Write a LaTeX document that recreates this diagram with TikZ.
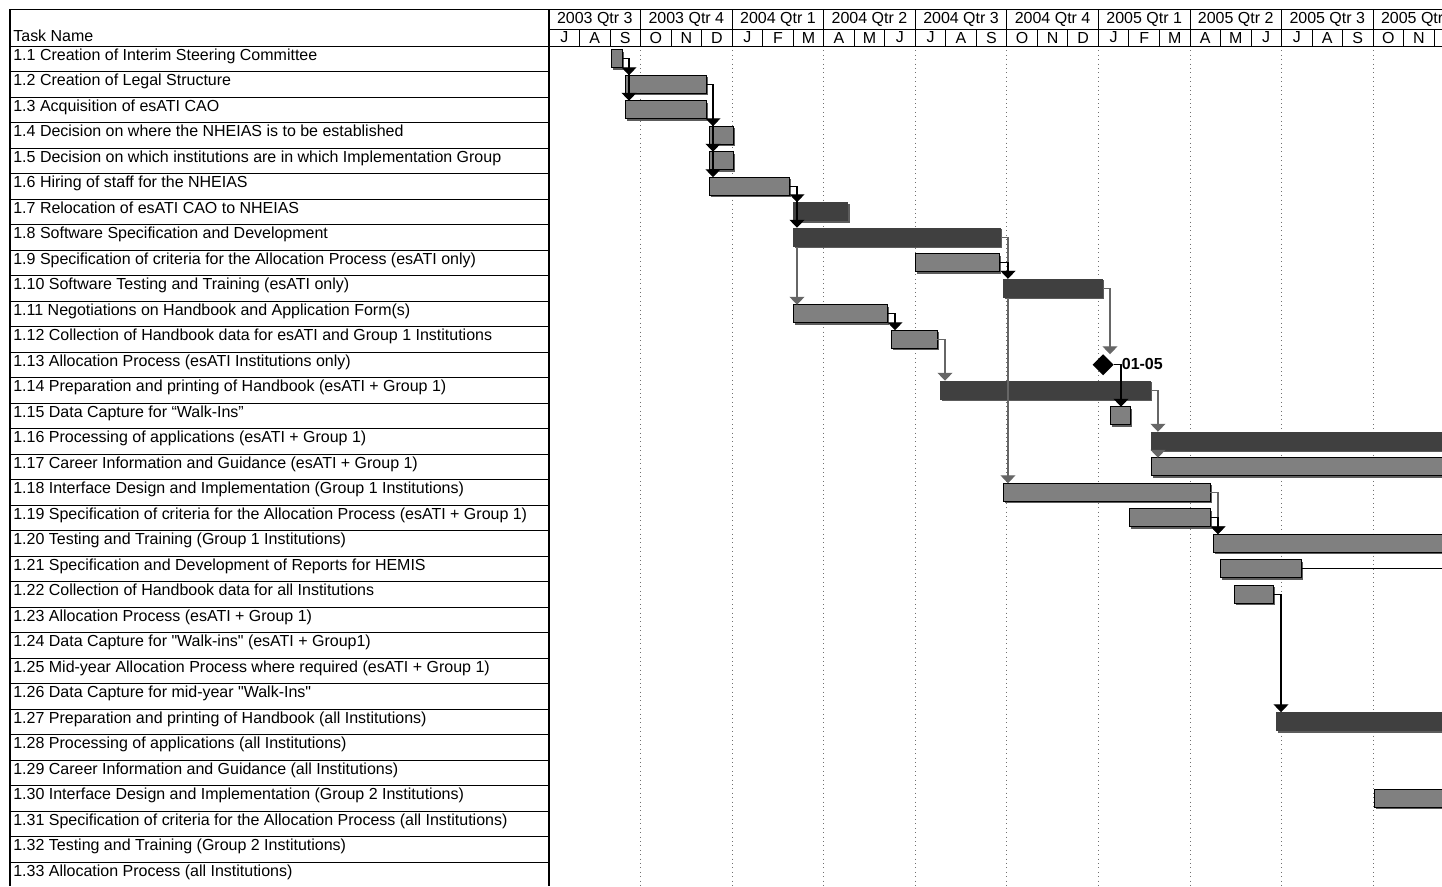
\documentclass[tikz,border=0pt]{standalone}
\usepackage{fontspec}
\setmainfont{Liberation Sans}
\usetikzlibrary{arrows.meta,shapes.geometric,shadows}

\definecolor{barGray}{HTML}{808080}
\definecolor{barDark}{HTML}{404040}
\definecolor{shadeGray}{HTML}{5C5C5C}
\definecolor{linkGray}{HTML}{666666}
\definecolor{gridGray}{HTML}{707070}

\begin{document}
\begin{tikzpicture}[x=0.02cm, y=-0.02cm,
  font=\fontsize{9.1}{10}\selectfont,
  gbar/.style={draw=black, line width=0.5pt, fill=barGray, anchor=west,
    minimum height=0.36cm, inner sep=0pt, outer sep=0pt,
    drop shadow={shadow xshift=0.035cm, shadow yshift=-0.035cm, fill=shadeGray, opacity=1}},
  dbar/.style={fill=barDark, anchor=west, minimum height=0.38cm, inner sep=0pt, outer sep=0pt,
    drop shadow={shadow xshift=0.03cm, shadow yshift=-0.03cm, fill=shadeGray, opacity=1}},
  mstone/.style={diamond, aspect=1, fill=black, minimum width=0.42cm, minimum height=0.42cm,
    inner sep=0pt, outer sep=0pt},
  link/.style={draw=black, line width=0.6pt, -{Triangle[width=0.3cm,length=0.16cm]}},
  glink/.style={draw=linkGray, line width=0.6pt, -{Triangle[width=0.3cm,length=0.16cm]}},
  taskname/.style={anchor=base west, inner sep=0pt},
  hdr/.style={inner sep=0pt},
  rowline/.style={draw=black, line width=0.5pt},
  gridline/.style={draw=gridGray, line width=0.5pt, dotted}]

  \useasboundingbox (0,0) rectangle (1442,886);
  \clip (0,0) rectangle (1442,886);

  % Quadrillage
  \foreach \k in {1,...,9}
    \draw[gridline] ({549+91.56*\k},46) -- ({549+91.56*\k},886);

  % En-tete
  \draw[rowline] (10,9.3) -- (1442,9.3);
  \draw[rowline] (549,29) -- (1442,29);
  \draw[rowline] (10,46) -- (1442,46);
  \foreach \k in {1,...,29}
    \draw[rowline] ({549+30.52*\k},29) -- ({549+30.52*\k},46);
  \foreach \k in {1,...,9}
    \draw[rowline] ({549+91.56*\k},9.3) -- ({549+91.56*\k},29);
  \foreach \q [count=\k from 0] in {2003 Qtr 3,2003 Qtr 4,2004 Qtr 1,2004 Qtr 2,2004 Qtr 3,
      2004 Qtr 4,2005 Qtr 1,2005 Qtr 2,2005 Qtr 3,2005 Qtr 4}
    \node[hdr] (q\k) at ({549+91.56*(\k+0.5)}, 19) {\q};
  \foreach \m [count=\k from 0] in {J,A,S,O,N,D,J,F,M,A,M,J,J,A,S,O,N,D,J,F,M,A,M,J,J,A,S,O,N}
    \node[hdr] (m\k) at ({549+30.52*(\k+0.5)}, 37.5) {\m};
  \node[taskname] (hd) at (13, 41) {Task Name};

  % Tableau des taches
  \draw[line width=0.6pt] (10,9.3) -- (10,886);
  \draw[line width=1pt] (549,9.3) -- (549,886);
  \foreach \i in {1,...,33}
    \draw[rowline] (10,{46+25.5*\i}) -- (549,{46+25.5*\i});
  \foreach \txt [count=\i] in {
      1.1 Creation of Interim Steering Committee,
      1.2 Creation of Legal Structure,
      1.3 Acquisition of esATI CAO,
      1.4 Decision on where the NHEIAS is to be established,
      1.5 Decision on which institutions are in which Implementation Group,
      1.6 Hiring of staff for the NHEIAS,
      1.7 Relocation of esATI CAO to NHEIAS,
      1.8 Software Specification and Development,
      1.9 Specification of criteria for the Allocation Process (esATI only),
      1.10 Software Testing and Training (esATI only),
      1.11 Negotiations on Handbook and Application Form(s),
      1.12 Collection of Handbook data for esATI and Group 1 Institutions,
      1.13 Allocation Process (esATI Institutions only),
      1.14 Preparation and printing of Handbook (esATI + Group 1),
      1.15 Data Capture for “Walk-Ins”,
      1.16 Processing of applications (esATI + Group 1),
      1.17 Career Information and Guidance (esATI + Group 1),
      1.18 Interface Design and Implementation (Group 1 Institutions),
      1.19 Specification of criteria for the Allocation Process (esATI + Group 1),
      1.20 Testing and Training (Group 1 Institutions),
      1.21 Specification and Development of Reports for HEMIS,
      1.22 Collection of Handbook data for all Institutions,
      1.23 Allocation Process (esATI + Group 1),
      1.24 Data Capture for \textquotedbl Walk-ins\textquotedbl{} (esATI + Group1),
      1.25 Mid-year Allocation Process where required (esATI + Group 1),
      1.26 Data Capture for mid-year \textquotedbl Walk-Ins\textquotedbl,
      1.27 Preparation and printing of Handbook (all Institutions),
      1.28 Processing of applications (all Institutions),
      1.29 Career Information and Guidance (all Institutions),
      1.30 Interface Design and Implementation (Group 2 Institutions),
      1.31 Specification of criteria for the Allocation Process (all Institutions),
      1.32 Testing and Training (Group 2 Institutions),
      1.33 Allocation Process (all Institutions)}
    \node[taskname] (t\i) at (13, {34.5+25.5*\i}) {\txt};

  % Barres
  \node[gbar, minimum width=0.22cm] (b1) at (611, 58.75) {};
  \node[gbar, minimum width=1.62cm] (b2) at (625, 84.25) {};
  \node[gbar, minimum width=1.62cm] (b3) at (625, 109.75) {};
  \node[gbar, minimum width=0.48cm] (b4) at (709, 135.25) {};
  \node[gbar, minimum width=0.48cm] (b5) at (709, 160.75) {};
  \node[gbar, minimum width=1.60cm] (b6) at (709, 186.25) {};
  \node[dbar, minimum width=1.10cm] (b7) at (793, 211.75) {};
  \node[dbar, minimum width=4.16cm] (b8) at (793, 237.25) {};
  \node[gbar, minimum width=1.68cm] (b9) at (915, 262.75) {};
  \node[dbar, minimum width=2.00cm] (b10) at (1003, 288.25) {};
  \node[gbar, minimum width=1.88cm] (b11) at (793, 313.75) {};
  \node[gbar, minimum width=0.92cm] (b12) at (891, 339.25) {};
  \node[mstone] (m13) at (1103, 364.75) {};
  \node[anchor=west, inner sep=0pt, font=\fontsize{9.1}{10}\selectfont\bfseries] (d13) at (1121.5, 364) {01-05};
  \node[dbar, minimum width=4.22cm] (b14) at (940, 390.25) {};
  \node[gbar, minimum width=0.40cm] (b15) at (1110, 415.75) {};
  \node[dbar, minimum width=6.20cm] (b16) at (1151, 441.25) {};
  \node[gbar, minimum width=6.20cm] (b17) at (1151, 466.75) {};
  \node[gbar, minimum width=4.14cm] (b18) at (1003, 492.25) {};
  \node[gbar, minimum width=1.62cm] (b19) at (1129, 517.75) {};
  \node[gbar, minimum width=5.00cm] (b20) at (1213, 543.25) {};
  \node[gbar, minimum width=1.62cm] (b21) at (1220, 568.75) {};
  \node[gbar, minimum width=0.78cm] (b22) at (1234, 594.25) {};
  \node[dbar, minimum width=3.80cm] (b27) at (1276, 721.75) {};
  \node[gbar, minimum width=1.80cm] (b30) at (1374, 798.25) {};

  % Liens
  \draw[link] (b1.east) -- ++(7,0) coordinate (k1) -- (k1 |- b2.north);
  \draw[link] (k1) -- (k1 |- b3.north);
  \draw[link] (b2.east) -- ++(7,0) coordinate (k2) -- (k2 |- b4.north);
  \draw[link] (k2) -- (k2 |- b5.north);
  \draw[link] (k2) -- (k2 |- b6.north);
  \draw[link] (b6.east) -- ++(8,0) coordinate (k6) -- (k6 |- b7.north);
  \draw[link] (k6) -- (k6 |- b8.north);
  \draw[glink] (k6 |- b8.south) -- (k6 |- b11.north);
  \draw[glink] (b8.east) -- ++(7,0) coordinate (k8) -- (k8 |- b10.north);
  \draw[glink] (k8 |- b10.south) -- (k8 |- b18.north);
  \draw[link] (b9.east) -- (b9.east -| k8) -- (k8 |- b10.north);
  \draw[glink] (b10.east) -- ++(7,0) coordinate (k10) -- (k10 |- m13.north);
  \draw[link] (b11.east) -- ++(8,0) coordinate (k11) -- (k11 |- b12.north);
  \draw[glink] (b12.east) -- ++(8,0) coordinate (k12) -- (k12 |- b14.north);
  \draw[link] (m13.east) -- ++(7.5,0) coordinate (k13) -- (k13 |- b15.north);
  \draw[glink] (b14.east) -- ++(7,0) coordinate (k14) -- (k14 |- b16.north);
  \draw[glink] (k14 |- b16.south) -- (k14 |- b17.north);
  \draw[glink] (b18.east) -- ++(8,0) coordinate (k18) -- (k18 |- b20.north);
  \draw[link] (b19.east) -- (b19.east -| k18) -- (k18 |- b20.north);
  \coordinate (e21) at (1460, 568.75);
  \draw[line width=0.6pt] (b21.east) -- (b21.east -| e21);
  \draw[link] (b22.east) -- ++(8,0) coordinate (k22) -- (k22 |- b27.north);
\end{tikzpicture}
\end{document}
